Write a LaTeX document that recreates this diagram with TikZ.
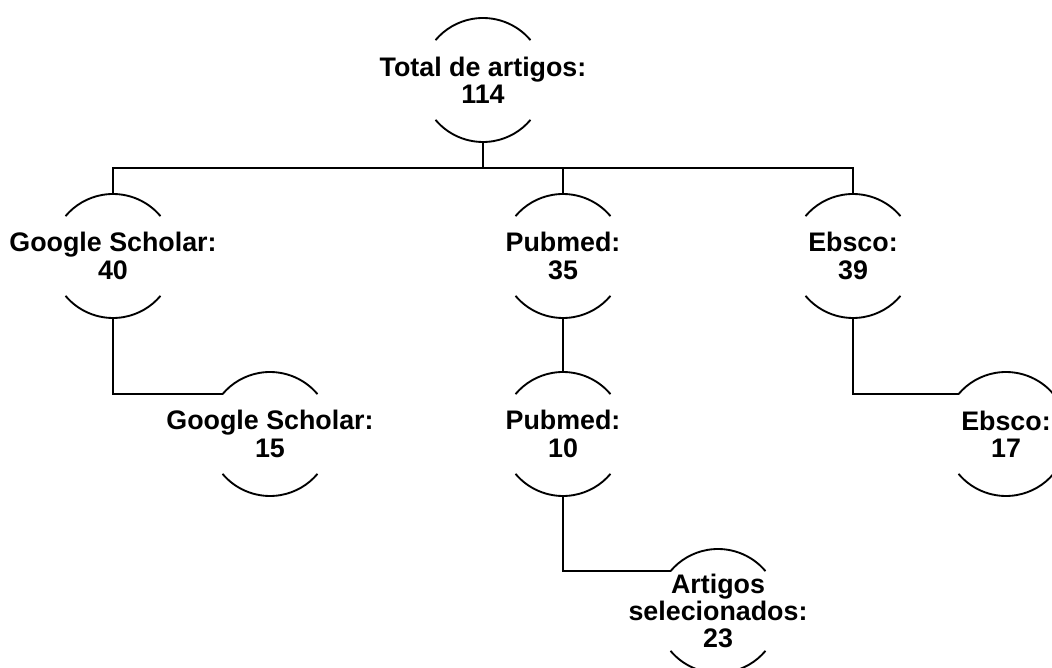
\documentclass[tikz,border=0pt]{standalone}
\usepackage{fontspec}
\setmainfont{Liberation Sans}
\usetikzlibrary{positioning}

\tikzset{
  base/.style={circle, minimum size=3.72cm, inner sep=0pt, outer sep=0pt},
  txt/.style={align=center, inner sep=0pt, font=\bfseries\fontsize{22.9}{23.2}\selectfont},
  line/.style={color=black, line width=1.6pt},
}

\begin{document}
\begin{tikzpicture}[x=0.03cm, y=0.03cm]
\useasboundingbox (0,0) rectangle (1052,668);

\node[base, label={[txt]center:{Total de artigos:\\114}}] (total) at (483,588) {};
\node[base, label={[txt]center:{Google Scholar:\\40}}] (gs) at (113,412) {};
\node[base, label={[txt]center:{Pubmed:\\35}}] (pm) at (563,412) {};
\node[base, label={[txt]center:{Ebsco:\\39}}] (eb) at (853,412) {};
\node[base, label={[txt]center:{Google Scholar:\\15}}] (gsb) at (270,234) {};
\node[base, label={[txt]center:{Pubmed:\\10}}] (pmb) at (563,234) {};
\node[base, label={[txt]center:{Ebsco:\\17}}] (ebb) at (1006,234) {};
\node[base, label={[txt]center:{Artigos\\selecionados:\\23}}] (sel) at (718,57) {};

% upper and lower arcs of each circle
\foreach \n in {total,gs,pm,eb,gsb,pmb,ebb,sel}{
  \draw[line] (\n.40) arc[start angle=40, end angle=140, radius=1.86cm];
  \draw[line] (\n.220) arc[start angle=220, end angle=320, radius=1.86cm];
}

\coordinate (bus) at ([yshift=-0.78cm]total.south);
\draw[line] (total.south) -- (bus);
\draw[line] (gs.north) |- (bus) -| (eb.north);
\draw[line] (bus) -| (pm.north);

\draw[line] (gs.south) |- (gsb.140);
\draw[line] (pm.south) -- (pmb.north);
\draw[line] (pmb.south) |- (sel.140);
\draw[line] (eb.south) |- (ebb.140);

\end{tikzpicture}
\end{document}
